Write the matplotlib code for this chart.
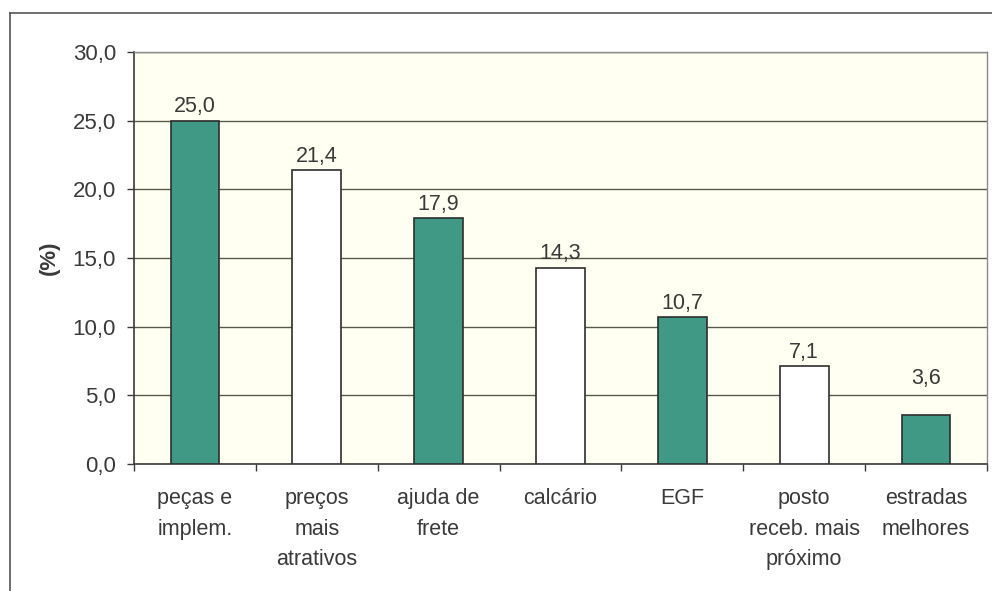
import matplotlib
matplotlib.use("Agg")
import matplotlib.pyplot as plt
from matplotlib.lines import Line2D
import numpy as np

categories = ["peças e\nimplem.", "preços\nmais\natrativos", "ajuda de\nfrete",
              "calcário", "EGF", "posto\nreceb. mais\npróximo", "estradas\nmelhores"]
values = [25.0, 21.4, 17.9, 14.3, 10.7, 7.1, 3.6]
filled = [True, False, True, False, True, False, True]
y_ticks = [0, 5, 10, 15, 20, 25, 30]

plt.rcParams['font.family'] = ['Liberation Sans', 'DejaVu Sans']
text_color = "#3a3a3a"
green = "#3f9984"

fig = plt.figure(figsize=(9.92, 5.91), dpi=100)
ax = fig.add_axes([134/992, 1 - 464/591, (987-134)/992, (464-52)/591])
ax.set_facecolor("#fffff2")

x = np.arange(len(categories))
colors = [green if f else "white" for f in filled]
ax.bar(x, values, width=0.40, color=colors, edgecolor="#2e2e2e",
       linewidth=1.2, zorder=3)

# value labels; the last one sits a little higher above its short bar
for i, (xi, v) in enumerate(zip(x, values)):
    lift = 1.6 if i == len(values) - 1 else 0.0
    ax.text(xi, v + 0.25 + lift, f"{v:.1f}".replace(".", ","), ha="center",
            va="bottom", fontsize=15.5, color=text_color, zorder=4)

ax.set_xlim(-0.5, len(categories) - 0.5)
ax.set_ylim(0, 30)
ax.set_yticks(y_ticks)
ax.set_yticklabels([f"{t:.1f}".replace(".", ",") for t in y_ticks],
                   fontsize=16, color=text_color)
ax.yaxis.grid(True, color="#5a5a4a", linewidth=1.0, zorder=1)
ax.set_axisbelow(True)

ax.set_xticks(x)
ax.set_xticklabels(categories, fontsize=15.5, color=text_color, linespacing=1.62,
                   va="top")
ax.tick_params(axis="x", which="major", length=0, pad=17)
ax.set_xticks(np.arange(len(categories) + 1) - 0.5, minor=True)
ax.tick_params(axis="x", which="minor", length=5, width=1.0, color="#3a3a3a",
               direction="out")
ax.tick_params(axis="y", length=5, width=1.0, color="#3a3a3a", pad=8,
               direction="out")

ax.set_ylabel("(%)", fontsize=16, fontweight="bold", color=text_color,
              labelpad=9)

for side in ["left", "bottom"]:
    ax.spines[side].set_color("#3a3a3a")
    ax.spines[side].set_linewidth(1.2)
for side in ["top", "right"]:
    ax.spines[side].set_color("#8a8a8a")
    ax.spines[side].set_linewidth(1.0)

# outer chart frame
fig.add_artist(Line2D([10/992, 10/992], [0, 1 - 13/591], color="#555555",
                      linewidth=1.2, transform=fig.transFigure))
fig.add_artist(Line2D([10/992, 1], [1 - 13/591, 1 - 13/591], color="#555555",
                      linewidth=1.2, transform=fig.transFigure))

fig.savefig("out.png", dpi=100, facecolor="white")
